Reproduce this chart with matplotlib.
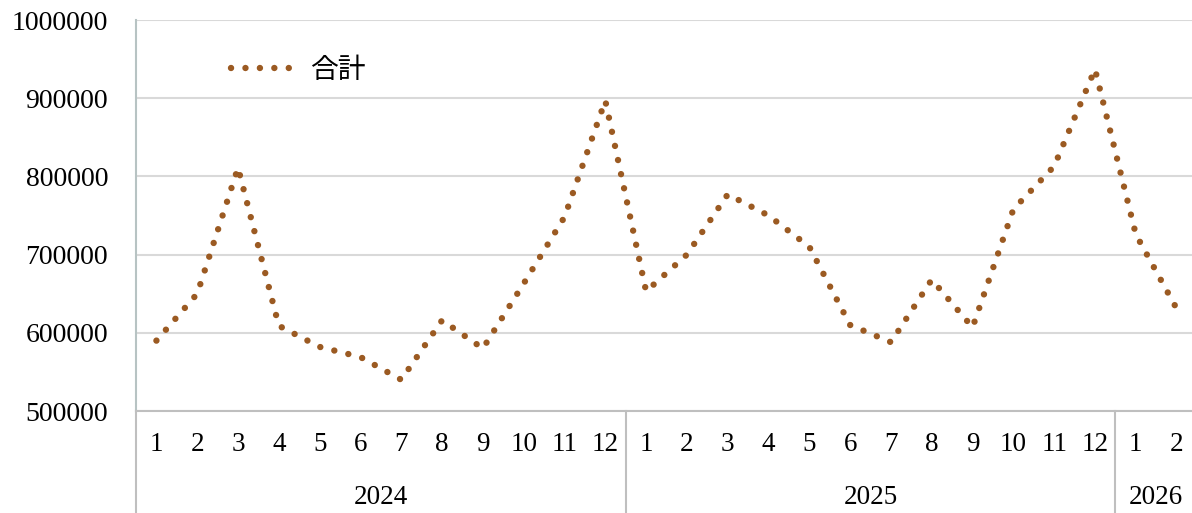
import matplotlib.pyplot as plt
import matplotlib.transforms as mtransforms

# 月別の合計値
anos = ['2024', '2025', '2026']
meses_por_ano = [12, 12, 2]
total_2024 = [590000, 650000, 811000, 609000, 582000, 569000,
              540000, 616000, 580000, 663000, 748000, 897000]
total_2025 = [653000, 700000, 777000, 750000, 710000, 610000,
              588000, 668000, 607000, 758000, 813000, 937000]
total_2026 = [726000, 631000]
serie_nome = '合計'

cor_linha = '#9B5A22'
cor_grade = '#D9D9D9'
cor_eixo = '#BFBFBF'

valores = total_2024 + total_2025 + total_2026
rotulos_mes = []
for n in meses_por_ano:
    rotulos_mes += [str(m) for m in range(1, n + 1)]
x = list(range(len(valores)))

fig = plt.figure(figsize=(11.92, 5.13), dpi=100)
ax = fig.add_axes([0.1141, 0.1988, 0.8901, 0.7622])

ax.plot(x, valores, color=cor_linha, linewidth=4.6,
        linestyle=(0, (0.01, 2.25)), dash_capstyle='round', label=serie_nome)

ax.set_xlim(-0.5, len(valores) - 0.5)
ax.set_ylim(500000, 1000000)
ax.set_yticks(range(500000, 1000001, 100000))
ax.set_yticklabels([str(v) for v in range(500000, 1000001, 100000)],
                   family='Liberation Serif', fontsize=20)
ax.set_xticks(x)
ax.set_xticklabels(rotulos_mes, family='Liberation Serif', fontsize=19.5)
ax.tick_params(axis='y', length=0, pad=20)
ax.tick_params(axis='x', length=0, pad=15)

ax.grid(axis='y', color=cor_grade, linewidth=1.5)
ax.set_axisbelow(True)
for lado in ['top', 'right']:
    ax.spines[lado].set_visible(False)
ax.spines['bottom'].set_color(cor_eixo)
ax.spines['bottom'].set_linewidth(1.5)
ax.spines['left'].set_color('#B7C3C3')
ax.spines['left'].set_linewidth(1.5)

# eixo de categorias em dois níveis (mês / ano)
trans = mtransforms.blended_transform_factory(ax.transData, ax.transAxes)
inicio = -0.5
for ano, n in zip(anos, meses_por_ano):
    fim = inicio + n
    ax.text((inicio + fim) / 2, -0.222, ano, transform=trans, ha='center', va='center',
            family='Liberation Serif', fontsize=19.5)
    ax.plot([inicio, inicio], [0, -0.3], transform=trans, color=cor_eixo,
            linewidth=1.5, clip_on=False)
    inicio = fim

leg = ax.legend(loc='upper left', bbox_to_anchor=(0.066, 0.975), frameon=False,
                prop={'family': ['Noto Sans CJK JP', 'DejaVu Sans'], 'size': 20},
                handlelength=2.45, handletextpad=0.4)

fig.savefig('out.png', dpi=100)
